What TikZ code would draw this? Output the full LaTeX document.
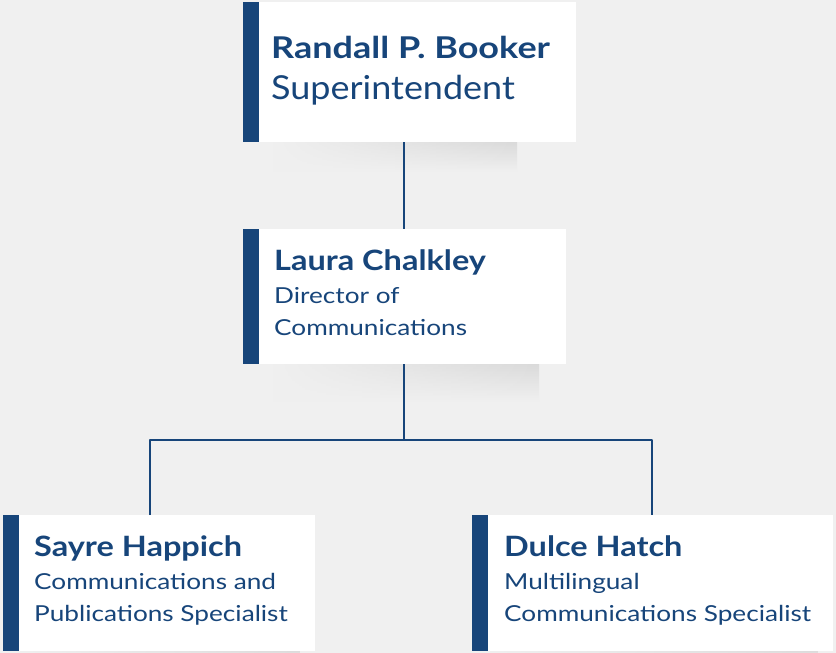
\documentclass[tikz,border=0pt]{standalone}
\usepackage{fontspec}
\setmainfont{Lato}
\newfontfamily\bossfont[FakeStretch=1.2]{Lato}
\newfontfamily\nmfont[FakeStretch=1.16]{Lato}
\newfontfamily\supfont[FakeStretch=1.09]{Lato}
\newfontfamily\ttlfont[FakeStretch=1.19]{Lato}
\usetikzlibrary{fadings}
\definecolor{bgc}{HTML}{F0F0F0}
\definecolor{navy}{HTML}{17457A}
\definecolor{shd}{HTML}{DADADA}
\tikzset{
  box/.style={rectangle, fill=white, inner sep=0pt, anchor=north west},
  bar/.style={fill=navy},
  conn/.style={draw=navy, line width=1.6pt, line join=round},
  shadowbox/.style={top color=shd, bottom color=bgc, path fading=west},
  nm/.style={anchor=base west, inner sep=0pt, text=navy, font=\nmfont\bfseries\fontsize{28}{32}\selectfont},
  nmbig/.style={nm, font=\bossfont\bfseries\fontsize{30}{34}\selectfont},
  ttl/.style={anchor=base west, inner sep=0pt, text=navy, align=left, font=\ttlfont\fontsize{22}{32}\selectfont},
  ttlbig/.style={ttl, font=\supfont\fontsize{33}{36}\selectfont},
}
\begin{document}
\begin{tikzpicture}[x=1pt, y=-1pt]
\fill[bgc] (0,0) rectangle (836,653);
\useasboundingbox (0,0) rectangle (836,653);
% shadows
\shade[shadowbox] (272,142) rectangle (517,172);
\shade[shadowbox] (272,364) rectangle (539,402);
\shade[shadowbox] (19,650) rectangle (300,660);
\shade[shadowbox] (488,650) rectangle (818,660);
% boxes
\node[box, minimum width=333pt, minimum height=140pt] (b1) at (243,2) {};
\node[box, minimum width=323pt, minimum height=135pt] (b2) at (243,229) {};
\node[box, minimum width=312pt, minimum height=136pt] (b3) at (3,515) {};
\node[box, minimum width=361pt, minimum height=136pt] (b4) at (472,515) {};
% bars
\foreach \b in {b1,b2,b3,b4}{
  \fill[bar] (\b.north west) rectangle ([xshift=16pt]\b.south west);
}
% junctions
\coordinate (jc) at (404,440);
\coordinate (jl) at (150,440);
\coordinate (jr) at (652,440);
% connectors
\draw[conn] (b1.south -| jc) -- (b2.north -| jc);
\draw[conn] (b2.south -| jc) -- (jc);
\draw[conn] (b3.north -| jl) -- (jl) -- (jr) -- (b4.north -| jr);
% texts
\node[nmbig] (t1a) at (271,58) {Randall P. Booker};
\node[ttlbig] (t1b) at (271,99) {Superintendent};
\node[nm] (t2a) at (274,270) {Laura Chalkley};
\node[ttl] (t2b) at (274,335) {Director of\\Communications};
\node[nm] (t3a) at (34,556) {Sayre Happich};
\node[ttl] (t3b) at (34,621) {Communications and\\Publications Specialist};
\node[nm] (t4a) at (504,556) {Dulce Hatch};
\node[ttl] (t4b) at (504,621) {Multilingual\\Communications Specialist};
\end{tikzpicture}
\end{document}
